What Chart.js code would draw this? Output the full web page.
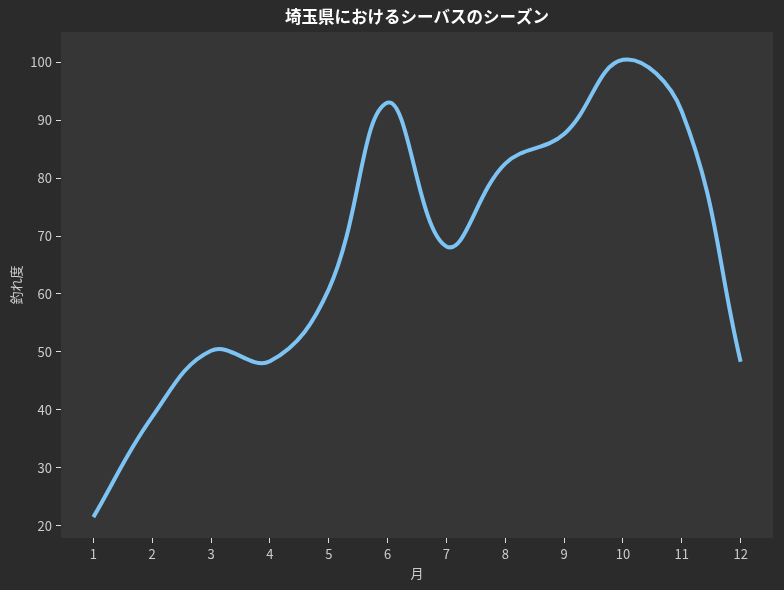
<!DOCTYPE html>
<html>
<head>
<meta charset="utf-8">
<script src="https://cdn.jsdelivr.net/npm/chart.js@4"></script>
<style>
  html, body { margin: 0; padding: 0; background: #2b2b2b; }
  #wrap { width: 784px; height: 590px; }
</style>
</head>
<body>
<div id="wrap"><canvas id="canvas" width="784" height="590"></canvas></div>
<script>
// monthly values
var months = [1, 2, 3, 4, 5, 6, 7, 8, 9, 10, 11, 12];
var score = [21.5, 38.8, 50.2, 48.4, 60.8, 93.0, 68.2, 82.5, 87.6, 100.4, 91.5, 48.3];
var yTicks = [20, 30, 40, 50, 60, 70, 80, 90, 100];
var titleText = "埼玉県におけるシーバスのシーズン";

var points = months.map(function (m, i) {
  return { x: m, y: score[i] };
});

var font = "'Noto Sans CJK JP', 'Noto Sans', sans-serif";
Chart.defaults.font.family = font;

// plot background + title centred over the plot area
var plotBg = {
  id: "plotBg",
  beforeDraw: function (chart) {
    var a = chart.chartArea;
    var c = chart.ctx;
    c.save();
    c.fillStyle = "#363636";
    c.fillRect(a.left, a.top, a.right - a.left, a.bottom - a.top);
    c.restore();
  },
  afterDraw: function (chart) {
    var a = chart.chartArea;
    var c = chart.ctx;
    c.save();
    c.fillStyle = "#ffffff";
    c.font = "bold 16.5px " + font;
    c.textAlign = "center";
    c.textBaseline = "middle";
    c.fillText(titleText, (a.left + a.right) / 2, 17);
    c.restore();
  },
};

const ctx = document.getElementById("canvas").getContext("2d");
const myChart = new Chart(ctx, {
  type: "line",
  data: {
    datasets: [
      {
        data: points,
        borderColor: "#7dc3f3",
        borderWidth: 4,
        pointRadius: 0,
        tension: 0.4,
        fill: false,
      },
    ],
  },
  options: {
    responsive: false,
    animation: false,
    layout: { padding: { top: 32, right: 11, bottom: 0, left: 0 } },
    plugins: {
      legend: { display: false },
      tooltip: { enabled: false },
      title: { display: false },
    },
    scales: {
      x: {
        type: "linear",
        min: 0.45,
        max: 12.55,
        afterBuildTicks: function (scale) {
          scale.ticks = months.map(function (m) {
            return { value: m };
          });
        },
        afterFit: function (scale) {
          scale.height = 52;
        },
        grid: {
          display: true,
          drawOnChartArea: false,
          drawTicks: true,
          tickLength: 5,
          color: "#dddddd",
        },
        border: { display: false },
        ticks: { color: "#cccccc", font: { size: 13 }, padding: 3, maxRotation: 0 },
        title: {
          display: true,
          text: "月",
          color: "#cccccc",
          font: { size: 13 },
          padding: { top: 2, bottom: 9 },
        },
      },
      y: {
        min: 17.9,
        max: 105.2,
        afterBuildTicks: function (scale) {
          scale.ticks = yTicks.map(function (v) {
            return { value: v };
          });
        },
        afterFit: function (scale) {
          scale.width = 61;
        },
        grid: {
          display: true,
          drawOnChartArea: false,
          drawTicks: true,
          tickLength: 5,
          color: "#dddddd",
        },
        border: { display: false },
        ticks: { color: "#cccccc", font: { size: 13 }, padding: 4 },
        title: {
          display: true,
          text: "釣れ度",
          color: "#cccccc",
          font: { size: 13 },
          padding: { top: 8, bottom: 4 },
        },
      },
    },
  },
  plugins: [plotBg],
});
</script>
</body>
</html>
